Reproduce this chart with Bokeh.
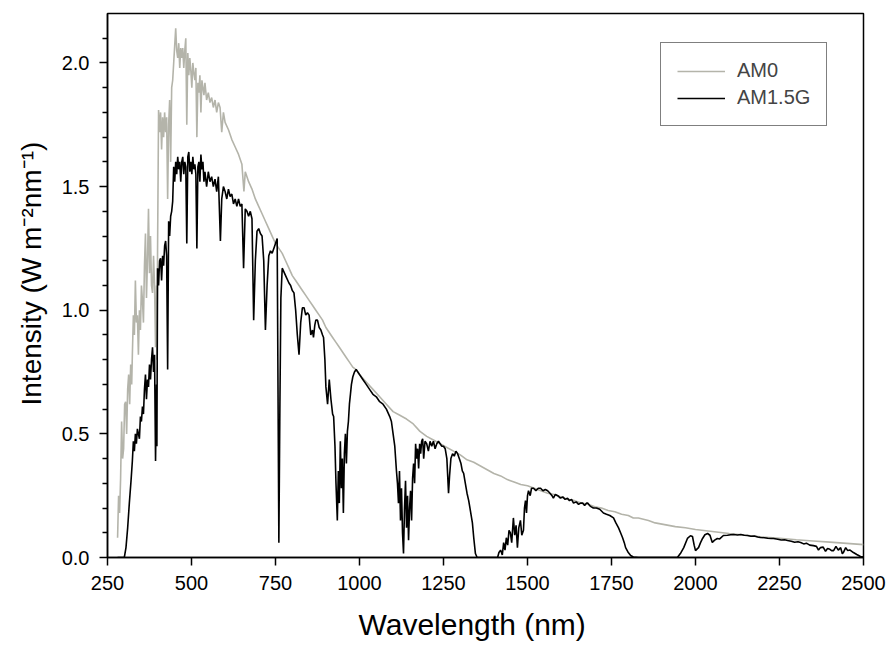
from bokeh.plotting import figure
from bokeh.models import (Range1d, FixedTicker, PrintfTickFormatter, Legend,
                          LegendItem, ColumnDataSource, Title)
from bokeh.embed import file_html
from bokeh.resources import INLINE

# ---- data (wavelength nm, intensity W m-2 nm-1) ----
am0_points = [
    (280, 0.08), (283, 0.25), (286, 0.18), (289, 0.32), (292, 0.55), (295, 0.40),
    (298, 0.44), (301, 0.62), (304, 0.63), (307, 0.50), (310, 0.68), (313, 0.74),
    (316, 0.62), (319, 0.78), (322, 0.70), (324, 0.82), (327, 0.98), (330, 0.90),
    (333, 1.12), (336, 0.95), (339, 0.98), (342, 0.82), (345, 1.00), (348, 0.92),
    (351, 1.10), (354, 1.04), (357, 0.95), (360, 1.18), (363, 1.31), (366, 1.05),
    (369, 1.20), (372, 1.41), (375, 1.15), (378, 1.30), (381, 1.10), (384, 1.07),
    (387, 1.22), (390, 1.10), (393, 0.85), (396, 1.10), (397, 0.80), (399, 1.24),
    (402, 1.81), (405, 1.72), (408, 1.80), (411, 1.65), (414, 1.78), (417, 1.70),
    (420, 1.80), (423, 1.72), (426, 1.78), (429, 1.45), (432, 1.75), (435, 1.85),
    (438, 1.60), (441, 1.90), (444, 1.93), (447, 2.00), (450, 2.07), (453, 2.14),
    (456, 2.05), (459, 2.02), (462, 2.08), (465, 1.98), (468, 2.06), (471, 2.02),
    (474, 2.06), (477, 1.98), (480, 2.05), (483, 2.10), (486, 1.75), (489, 2.04),
    (492, 1.95), (495, 2.02), (498, 1.97), (501, 1.90), (504, 2.00), (507, 1.96),
    (510, 1.93), (513, 1.98), (516, 1.70), (519, 1.92), (522, 1.88), (525, 1.95),
    (528, 1.80), (531, 1.93), (534, 1.90), (537, 1.87), (540, 1.92), (545, 1.85),
    (550, 1.88), (555, 1.84), (560, 1.86), (565, 1.82), (570, 1.85), (575, 1.80),
    (580, 1.84), (585, 1.82), (590, 1.72), (595, 1.80), (600, 1.76), (610, 1.73),
    (620, 1.69), (630, 1.66), (640, 1.63), (650, 1.59), (656, 1.48), (660, 1.56),
    (670, 1.52), (680, 1.49), (690, 1.45), (700, 1.42), (710, 1.39), (720, 1.36),
    (730, 1.33), (740, 1.30), (750, 1.27), (760, 1.25), (770, 1.23), (780, 1.20),
    (790, 1.17), (800, 1.14), (810, 1.12), (820, 1.10), (830, 1.08), (840, 1.06),
    (850, 1.04), (860, 1.02), (870, 1.00), (880, 0.98), (890, 0.96), (900, 0.93),
    (910, 0.91), (920, 0.89), (930, 0.87), (940, 0.85), (950, 0.83), (960, 0.81),
    (970, 0.79), (980, 0.77), (990, 0.76), (1000, 0.74), (1020, 0.71), (1040, 0.68),
    (1060, 0.65), (1080, 0.62), (1100, 0.59), (1120, 0.575), (1140, 0.56),
    (1160, 0.54), (1180, 0.51), (1200, 0.49), (1220, 0.475), (1240, 0.46),
    (1260, 0.445), (1280, 0.43), (1300, 0.415), (1320, 0.395), (1340, 0.385),
    (1360, 0.37), (1380, 0.355), (1400, 0.34), (1420, 0.33), (1440, 0.315),
    (1460, 0.305), (1480, 0.295), (1500, 0.29), (1520, 0.28), (1540, 0.27),
    (1560, 0.26), (1580, 0.255), (1600, 0.245), (1620, 0.235), (1640, 0.23),
    (1660, 0.22), (1680, 0.215), (1700, 0.205), (1720, 0.20), (1740, 0.19),
    (1760, 0.185), (1780, 0.175), (1800, 0.17), (1815, 0.16), (1830, 0.16),
    (1860, 0.15), (1880, 0.14), (1900, 0.135), (1940, 0.125), (1970, 0.12),
    (2000, 0.113), (2050, 0.105), (2100, 0.097), (2150, 0.09), (2200, 0.083),
    (2250, 0.078), (2300, 0.072), (2350, 0.067), (2400, 0.062), (2450, 0.057),
    (2500, 0.052),
]

am15g_points = [
    (280, 0.0), (300, 0.0), (305, 0.04), (310, 0.12), (315, 0.22), (320, 0.31),
    (324, 0.39), (327, 0.47), (330, 0.43), (333, 0.50), (336, 0.46), (339, 0.52),
    (342, 0.50), (345, 0.48), (348, 0.57), (351, 0.55), (354, 0.61), (357, 0.58),
    (360, 0.68), (363, 0.74), (366, 0.64), (369, 0.72), (372, 0.69), (375, 0.78),
    (378, 0.72), (381, 0.80), (384, 0.85), (387, 0.75), (390, 0.82), (393, 0.39),
    (396, 0.70), (397, 0.45), (399, 1.17), (402, 1.10), (405, 1.20), (408, 1.21),
    (411, 1.12), (414, 1.22), (417, 1.18), (420, 1.26), (423, 1.28), (426, 1.22),
    (429, 0.76), (432, 1.36), (435, 1.30), (438, 1.38), (441, 1.40), (444, 1.44),
    (447, 1.58), (450, 1.52), (453, 1.60), (456, 1.55), (459, 1.62), (462, 1.57),
    (465, 1.60), (468, 1.52), (471, 1.60), (474, 1.62), (477, 1.55), (480, 1.60),
    (483, 1.58), (486, 1.27), (489, 1.62), (492, 1.64), (495, 1.56), (498, 1.60),
    (501, 1.55), (504, 1.62), (507, 1.57), (510, 1.59), (513, 1.55), (516, 1.25),
    (519, 1.58), (522, 1.60), (525, 1.52), (528, 1.63), (531, 1.57), (534, 1.60),
    (537, 1.52), (540, 1.56), (545, 1.50), (550, 1.56), (555, 1.52), (560, 1.54),
    (565, 1.50), (570, 1.53), (575, 1.48), (580, 1.54), (586, 1.28), (590, 1.45),
    (595, 1.50), (600, 1.48), (605, 1.45), (610, 1.49), (615, 1.46), (620, 1.47),
    (625, 1.43), (630, 1.45), (635, 1.42), (640, 1.45), (645, 1.42), (650, 1.43),
    (655, 1.17), (660, 1.41), (665, 1.40), (670, 1.38), (675, 1.40), (680, 1.37),
    (685, 0.96), (690, 1.20), (695, 1.32), (700, 1.33), (705, 1.31), (710, 1.30),
    (715, 1.20), (720, 0.92), (725, 1.10), (730, 1.22), (735, 1.24), (740, 1.23),
    (745, 1.25), (750, 1.27), (755, 1.29), (760, 0.06), (763, 0.60), (766, 1.05),
    (770, 1.17), (780, 1.14), (790, 1.11), (795, 1.10), (800, 1.08), (805, 1.07),
    (810, 1.00), (815, 0.90), (820, 0.82), (825, 0.95), (830, 1.01), (835, 1.01),
    (840, 0.98), (845, 0.99), (850, 0.98), (855, 0.90), (860, 0.92), (863, 0.89),
    (867, 0.94), (870, 0.96), (875, 0.96), (880, 0.93), (885, 0.92), (890, 0.90),
    (893, 0.89), (897, 0.80), (900, 0.69), (905, 0.62), (910, 0.72), (915, 0.64),
    (920, 0.58), (923, 0.57), (927, 0.45), (930, 0.30), (934, 0.15), (937, 0.35),
    (940, 0.22), (943, 0.47), (946, 0.28), (949, 0.40), (952, 0.18), (955, 0.42),
    (958, 0.50), (961, 0.38), (964, 0.51), (967, 0.55), (970, 0.62), (973, 0.66),
    (976, 0.70), (980, 0.73), (985, 0.75), (990, 0.76), (995, 0.75), (1000, 0.74),
    (1010, 0.72), (1020, 0.70), (1030, 0.68), (1040, 0.66), (1050, 0.65),
    (1060, 0.63), (1070, 0.62), (1080, 0.60), (1090, 0.57), (1095, 0.55),
    (1100, 0.50), (1105, 0.45), (1110, 0.35), (1113, 0.30), (1116, 0.22),
    (1119, 0.35), (1122, 0.15), (1125, 0.28), (1128, 0.10), (1131, 0.016),
    (1134, 0.20), (1137, 0.31), (1140, 0.12), (1143, 0.25), (1146, 0.07),
    (1149, 0.20), (1152, 0.27), (1155, 0.15), (1158, 0.32), (1161, 0.38),
    (1164, 0.30), (1167, 0.46), (1170, 0.40), (1173, 0.44), (1176, 0.36),
    (1179, 0.46), (1182, 0.42), (1185, 0.47), (1188, 0.48), (1191, 0.40),
    (1195, 0.47), (1200, 0.46), (1205, 0.43), (1210, 0.47), (1215, 0.45),
    (1220, 0.47), (1225, 0.44), (1230, 0.46), (1235, 0.47), (1240, 0.46),
    (1245, 0.45), (1250, 0.45), (1255, 0.44), (1260, 0.40), (1265, 0.26),
    (1268, 0.33), (1272, 0.40), (1277, 0.42), (1282, 0.41), (1287, 0.43),
    (1292, 0.42), (1297, 0.40), (1302, 0.38), (1306, 0.35), (1310, 0.34),
    (1315, 0.30), (1320, 0.26), (1325, 0.23), (1330, 0.19), (1336, 0.14),
    (1340, 0.08), (1345, 0.016), (1350, 0.0), (1400, 0.0), (1411, 0.0),
    (1415, 0.02), (1420, 0.03), (1425, 0.01), (1429, 0.06), (1433, 0.03),
    (1437, 0.08), (1441, 0.05), (1445, 0.11), (1449, 0.10), (1453, 0.06),
    (1458, 0.16), (1462, 0.09), (1466, 0.13), (1470, 0.04), (1474, 0.12),
    (1479, 0.15), (1483, 0.09), (1488, 0.11), (1491, 0.20), (1494, 0.23),
    (1497, 0.18), (1500, 0.25), (1503, 0.27), (1508, 0.25), (1512, 0.28),
    (1518, 0.28), (1525, 0.27), (1532, 0.28), (1539, 0.28), (1546, 0.27),
    (1553, 0.275), (1560, 0.27), (1567, 0.26), (1573, 0.25), (1577, 0.24),
    (1583, 0.255), (1590, 0.25), (1598, 0.24), (1605, 0.245), (1612, 0.235),
    (1619, 0.24), (1625, 0.23), (1631, 0.235), (1637, 0.22), (1645, 0.225),
    (1652, 0.215), (1658, 0.22), (1664, 0.22), (1670, 0.21), (1676, 0.22),
    (1679, 0.22), (1685, 0.21), (1690, 0.205), (1696, 0.20), (1705, 0.20),
    (1715, 0.195), (1726, 0.18), (1735, 0.175), (1745, 0.17), (1756, 0.16),
    (1763, 0.14), (1771, 0.12), (1777, 0.10), (1783, 0.08), (1788, 0.06),
    (1792, 0.04), (1800, 0.02), (1807, 0.008), (1815, 0.002), (1830, 0.0),
    (1946, 0.0), (1955, 0.016), (1965, 0.04), (1976, 0.077), (1985, 0.088),
    (1991, 0.085), (1996, 0.05), (2000, 0.028), (2005, 0.035), (2009, 0.04),
    (2015, 0.06), (2021, 0.077), (2028, 0.092), (2036, 0.097), (2043, 0.09),
    (2050, 0.061), (2057, 0.07), (2065, 0.077), (2072, 0.075), (2083, 0.089),
    (2095, 0.09), (2105, 0.092), (2113, 0.093), (2125, 0.091), (2135, 0.093),
    (2145, 0.09), (2155, 0.089), (2165, 0.086), (2175, 0.087), (2185, 0.083),
    (2193, 0.081), (2205, 0.08), (2215, 0.078), (2225, 0.077), (2232, 0.077),
    (2245, 0.074), (2255, 0.071), (2265, 0.072), (2274, 0.069), (2285, 0.066),
    (2295, 0.062), (2305, 0.064), (2313, 0.061), (2322, 0.055), (2330, 0.058),
    (2340, 0.05), (2351, 0.048), (2360, 0.045), (2366, 0.03), (2372, 0.04),
    (2380, 0.042), (2387, 0.025), (2393, 0.036), (2400, 0.033), (2405, 0.028),
    (2411, 0.028), (2418, 0.045), (2425, 0.03), (2432, 0.04), (2437, 0.015),
    (2440, 0.02), (2447, 0.04), (2453, 0.028), (2460, 0.03), (2470, 0.02),
    (2480, 0.012), (2491, 0.004), (2500, 0.002),
]

series_names = ["AM0", "AM1.5G"]
x_title = "Wavelength (nm)"
y_title = "Intensity (W m\u207b\u00b2nm\u207b\u00b9)"
x_ticks = [250, 500, 750, 1000, 1250, 1500, 1750, 2000, 2250, 2500]
y_ticks = [0.0, 0.5, 1.0, 1.5, 2.0]
y_minor_ticks = [0.1, 0.2, 0.3, 0.4, 0.6, 0.7, 0.8, 0.9, 1.1, 1.2, 1.3, 1.4,
                 1.6, 1.7, 1.8, 1.9, 2.1]

FONT = "Liberation Sans"

p = figure(width=888, height=646, output_backend="svg", toolbar_location=None,
           x_range=Range1d(250, 2500), y_range=Range1d(0, 2.2),
           min_border_left=107, min_border_right=25, min_border_top=13,
           min_border_bottom=89)

src0 = ColumnDataSource(dict(x=[a for a, b in am0_points], y=[b for a, b in am0_points]))
src1 = ColumnDataSource(dict(x=[a for a, b in am15g_points], y=[b for a, b in am15g_points]))
r0 = p.line("x", "y", source=src0, line_color="#b4b4aa", line_width=1.6)
r1 = p.line("x", "y", source=src1, line_color="black", line_width=1.6)

p.grid.visible = False
p.outline_line_color = "black"
p.outline_line_width = 1.5
p.outline_line_alpha = 1.0
p.background_fill_color = "white"
p.border_fill_color = "white"

p.xaxis.ticker = FixedTicker(ticks=x_ticks)
p.yaxis.ticker = FixedTicker(ticks=y_ticks, minor_ticks=y_minor_ticks)
p.xaxis.formatter = PrintfTickFormatter(format="%d")
p.yaxis.formatter = PrintfTickFormatter(format="%.1f")

for ax in (p.xaxis[0], p.yaxis[0]):
    ax.axis_line_color = "black"
    ax.axis_line_width = 1.5
    ax.major_tick_line_color = "black"
    ax.major_tick_line_width = 1.5
    ax.minor_tick_line_color = "black"
    ax.minor_tick_line_width = 1.5
    ax.major_tick_in = 0
    ax.major_tick_out = 8
    ax.minor_tick_in = 0
    ax.minor_tick_out = 5
    ax.major_label_standoff = 10
    ax.major_label_text_font = FONT
    ax.major_label_text_font_size = "20px"
    ax.major_label_text_color = "black"

# a small blank spacer between the x tick labels and the x title
p.add_layout(Title(text=" ", standoff=0, text_font=FONT, text_font_size="10px",
                   text_font_style="normal"), "below")
# axis titles as side titles, offset along the axis like the reference
p.add_layout(Title(text=x_title, align="left", offset=251, standoff=0,
                   text_font=FONT, text_font_size="30px",
                   text_font_style="normal", text_color="black"), "below")
p.add_layout(Title(text=y_title, align="left", offset=152, standoff=24,
                   text_font=FONT, text_font_size="28px",
                   text_font_style="normal", text_color="black"), "left")

legend = Legend(items=[LegendItem(label=series_names[0], renderers=[r0]),
                       LegendItem(label=series_names[1], renderers=[r1])],
                location=(553, 431))
legend.border_line_color = "black"
legend.border_line_width = 1.5
legend.padding = 16
legend.spacing = 4
legend.margin = 0
legend.glyph_width = 48
legend.glyph_height = 22
legend.label_height = 22
legend.label_standoff = 12
legend.label_text_font = FONT
legend.label_text_font_size = "20px"
legend.background_fill_alpha = 1.0
p.add_layout(legend, "center")

open("out.html", "w").write(file_html(p, INLINE))
